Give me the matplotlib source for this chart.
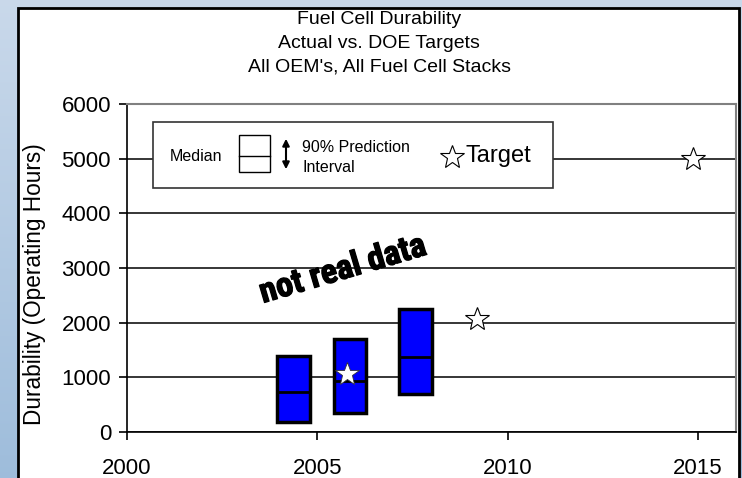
import matplotlib
matplotlib.use("Agg")
import matplotlib.pyplot as plt
import matplotlib.patheffects as pe
import numpy as np
from matplotlib.patches import Rectangle, FancyArrowPatch

plt.rcParams['font.family'] = ['Liberation Sans', 'DejaVu Sans']

# data
box_years = [2004.38, 2005.86, 2007.58]
box_low = [180, 350, 690]
box_median = [730, 930, 1370]
box_high = [1390, 1700, 2250]
actual_year = [2005.79]
actual_value = [1060]
target_years = [2009.2, 2014.87]
target_values = [2070, 5000]
x_ticks = [2000, 2005, 2010, 2015]
y_ticks = [0, 1000, 2000, 3000, 4000, 5000, 6000]
title_lines = ["Fuel Cell Durability", "Actual vs. DOE Targets", "All OEM's, All Fuel Cell Stacks"]

W, H = 742, 478
fig = plt.figure(figsize=(W / 100, H / 100), dpi=100)


def px(x, y):
    # pixel position (from top-left) -> figure fraction
    return x / W, 1 - y / H


# light blue gradient backdrop
bg = fig.add_axes([0, 0, 1, 1], zorder=-10)
grad = np.linspace(0, 1, 256).reshape(-1, 1)
top_c = np.array([0.79, 0.85, 0.92])
bot_c = np.array([0.62, 0.74, 0.86])
img = top_c + (bot_c - top_c) * grad[..., None]
img = np.repeat(img, 2, axis=1)
bg.imshow(img, aspect='auto', extent=[0, 1, 0, 1])
bg.set_axis_off()

# white chart panel with black frame
x0, y0 = px(18, 8)
x1, y1 = px(739, 490)
fig.patches.append(Rectangle((x0, y1), x1 - x0, y0 - y1, transform=fig.transFigure,
                             facecolor='white', edgecolor='black', linewidth=2, zorder=-5))

l, t = px(127, 104)
r, b = px(736, 432)
ax = fig.add_axes([l, b, r - l, t - b])
ax.set_facecolor('none')

ax.set_xlim(2000, 2016)
ax.set_ylim(0, 6000)
ax.set_xticks(x_ticks)
ax.set_yticks(y_ticks)
ax.yaxis.grid(True, color='black', linewidth=1.1)
ax.tick_params(direction='out', length=5.5, width=1.2, labelsize=16, colors='black')
ax.tick_params(axis='x', pad=13)
ax.tick_params(axis='y', pad=6)
for s in ['top', 'right']:
    ax.spines[s].set_color('#808080')
    ax.spines[s].set_linewidth(1.5)
for s in ['left', 'bottom']:
    ax.spines[s].set_color('black')
    ax.spines[s].set_linewidth(1.2)

bw = 0.86
heights = [h - lo for h, lo in zip(box_high, box_low)]
ax.bar(box_years, heights, bottom=box_low, width=bw, color='#0000ff',
       edgecolor='black', linewidth=2.5, zorder=3)
ax.hlines(box_median, [y - bw / 2 for y in box_years], [y + bw / 2 for y in box_years],
          color='black', linewidth=2, zorder=4)
ax.plot(actual_year, actual_value, linestyle='none', marker='*', markersize=18,
        markerfacecolor='white', markeredgecolor='#333333', markeredgewidth=0.6, zorder=5)
ax.plot(target_years, target_values, linestyle='none', marker='*', markersize=18,
        markerfacecolor='white', markeredgecolor='black', markeredgewidth=0.8, zorder=5)

ax.set_ylabel("Durability (Operating Hours)", fontsize=16.3)
ax.yaxis.set_label_coords((46 - 127) / 609, (432 - 284) / 328)

for i, line in enumerate(title_lines):
    fig.text(*px(379, 24 + i * 23.5), line, fontsize=14, ha='center', va='baseline')

# legend box
lx0, ly0 = px(153, 122)
lx1, ly1 = px(553, 188)
fig.patches.append(Rectangle((lx0, ly1), lx1 - lx0, ly0 - ly1, transform=fig.transFigure,
                             facecolor='white', edgecolor='#333333', linewidth=1.2, zorder=6))
fig.text(*px(170, 156), "Median", fontsize=11.5, ha='left', va='center', zorder=7)
ix0, iy0 = px(239, 135)
ix1, iy1 = px(270, 172)
fig.patches.append(Rectangle((ix0, iy1), ix1 - ix0, iy0 - iy1, transform=fig.transFigure,
                             facecolor='white', edgecolor='black', linewidth=1, zorder=7))
fig.lines.append(plt.Line2D([ix0, ix1], [px(0, 156)[1]] * 2, transform=fig.transFigure,
                            color='black', linewidth=1, zorder=8))
fig.patches.append(FancyArrowPatch(px(286, 172), px(286, 136), transform=fig.transFigure,
                                   arrowstyle='<|-|>,head_length=4,head_width=2',
                                   color='black', linewidth=1.5, zorder=8))
fig.text(*px(302, 147), "90% Prediction", fontsize=11.5, ha='left', va='center', zorder=7)
fig.text(*px(302, 167), "Interval", fontsize=11.5, ha='left', va='center', zorder=7)
fig.lines.append(plt.Line2D([px(452, 0)[0]], [px(0, 157)[1]], transform=fig.transFigure,
                            marker='*', markersize=18, markerfacecolor='white',
                            markeredgecolor='black', markeredgewidth=0.8, zorder=8))
fig.text(*px(466, 156), "Target", fontsize=17, ha='left', va='center', zorder=7)

# "not real data" stamp, narrow heavy type, sized to span ~174 px along its baseline
stamp = fig.text(*px(263, 303), "not real data", fontsize=26, fontweight='heavy',
                 family=['Liberation Sans Narrow', 'Roboto Condensed', 'Open Sans Condensed',
                         'DejaVu Sans'],
                 fontstretch='condensed', ha='left', va='baseline', zorder=9)
rend = fig.canvas.get_renderer()
w = stamp.get_window_extent(rend).width
stamp.set_fontsize(26 * 172 / w)
stamp.set_rotation(16.5)
stamp.set_rotation_mode('anchor')
stamp.set_path_effects([pe.withStroke(linewidth=0.9, foreground='black')])

fig.savefig("out.png", dpi=100)
